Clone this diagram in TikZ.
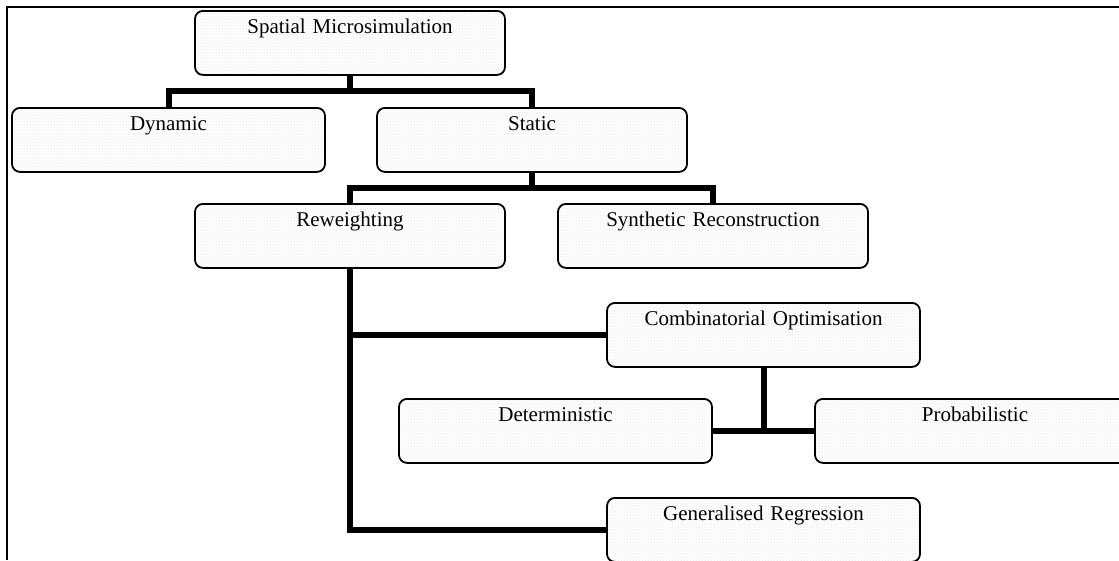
\documentclass[tikz,border=0pt]{standalone}
\usepackage{fontspec}
\setmainfont{Liberation Serif}
\usetikzlibrary{patterns}
\begin{document}
\begin{tikzpicture}[x=1pt,y=-1pt,
  tbox/.style={draw=black, line width=1.8pt, rounded corners=8pt,
    fill=white, pattern=dots, pattern color=black!22,
    inner sep=0pt, text height=23pt, text depth=41pt,
    text width=#1, align=center, anchor=north,
    font=\fontsize{21}{25}\selectfont},
  conn/.style={line width=6pt, line join=miter, line cap=butt},
  frameline/.style={line width=2.5pt}]
\useasboundingbox (0,0) rectangle (1119,560);
\clip (0,0) rectangle (1119,560);
% frame (only top and left edges are visible)
\draw[frameline] (7,560) -- (7,7) -- (1125,7);
% junction levels
\coordinate (j1) at (0,91);
\coordinate (j2) at (0,188);
% boxes
\node[tbox=310pt] (sm)   at (350,10)    {Spatial Microsimulation};
\node[tbox=313pt] (dyn)  at (168.5,107) {Dynamic};
\node[tbox=310pt] (stat) at (532,107)   {Static};
\node[tbox=310pt] (rew)  at (350,203)   {Reweighting};
\node[tbox=310pt] (syn)  at (713,203)   {Synthetic Reconstruction};
\node[tbox=313pt] (comb) at (763.5,302) {Combinatorial Optimisation};
\node[tbox=313pt] (det)  at (555.5,398) {Deterministic};
\node[tbox=320pt] (prob) at (975,398)   {Probabilistic};
\node[tbox=313pt] (gen)  at (763.5,497) {Generalised Regression};
% connectors
\draw[conn] (sm.south) -- (sm.south |- j1);
\draw[conn] (dyn.north) -- (dyn.north |- j1) -- (stat.north |- j1) -- (stat.north);
\draw[conn] (stat.south) -- (stat.south |- j2);
\draw[conn] (rew.north) -- (rew.north |- j2) -- (syn.north |- j2) -- (syn.north);
\draw[conn] (rew.south) -- (rew.south |- gen.west) -- (gen.west);
\draw[conn] (rew.south |- comb.west) -- (comb.west);
\draw[conn] (comb.south) -- (comb.south |- det.east);
\draw[conn] (det.east) -- (prob.west);
\end{tikzpicture}
\end{document}
